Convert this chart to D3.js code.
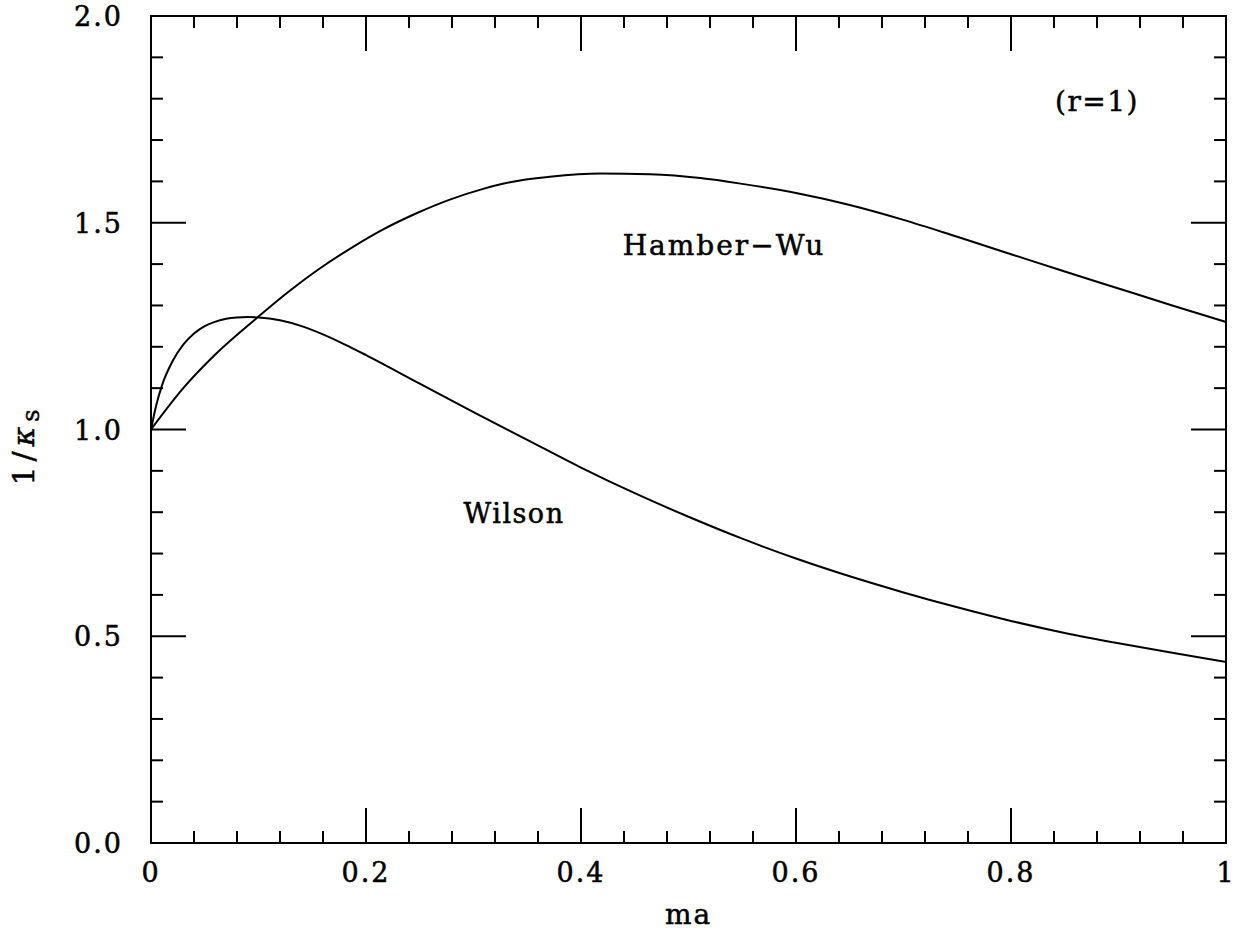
<!DOCTYPE html>
<html lang="en">
<head>
    <meta charset="UTF-8">
    <title>1/kappa_s vs ma</title>
    <script src="https://d3js.org/d3.v7.min.js"></script>
    <style>
        body { margin: 0; background: #fff; }
        text { font-family: "DejaVu Serif", serif; fill: #000; stroke: #000; stroke-width: 0.5px; }
    </style>
</head>
<body>
<div id="chart"></div>
<script>
    // values
    const wilsonX = [0, 0.005, 0.01, 0.02, 0.03, 0.04, 0.05, 0.06, 0.07, 0.08, 0.09, 0.1, 0.12, 0.14, 0.16,
        0.18, 0.2, 0.25, 0.3, 0.35, 0.4, 0.45, 0.5, 0.55, 0.6, 0.65, 0.7, 0.75, 0.8, 0.85, 0.9, 0.95, 1.0];
    const wilsonY = [1.0, 1.06, 1.105, 1.165, 1.205, 1.232, 1.25, 1.261, 1.268, 1.271, 1.272, 1.271, 1.264,
        1.25, 1.23, 1.206, 1.18, 1.111, 1.042, 0.975, 0.908, 0.846, 0.789, 0.736, 0.688, 0.645, 0.606, 0.57,
        0.537, 0.508, 0.483, 0.46, 0.438];

    const hamberX = [0, 0.03, 0.06, 0.0986, 0.125, 0.154, 0.185, 0.216, 0.247, 0.278, 0.309, 0.334, 0.371,
        0.418, 0.464, 0.511, 0.55, 0.6, 0.65, 0.7, 0.75, 0.8, 0.85, 0.9, 0.95, 1.0];
    const hamberY = [1.0, 1.1, 1.182, 1.27, 1.327, 1.384, 1.437, 1.484, 1.523, 1.556, 1.582, 1.598, 1.611,
        1.619, 1.617, 1.608, 1.594, 1.572, 1.543, 1.507, 1.466, 1.424, 1.382, 1.341, 1.3, 1.26];

    const xMajor = [0, 0.2, 0.4, 0.6, 0.8, 1];
    const xLabels = ["0", "0.2", "0.4", "0.6", "0.8", "1"];
    const yMajor = [0, 0.5, 1.0, 1.5, 2.0];
    const yLabels = ["0.0", "0.5", "1.0", "1.5", "2.0"];

    function drawChart(width, height) {
        const margin = {left: 151, right: width - 1226, top: 16, bottom: height - 843};
        const svg = d3.select("#chart").append("svg")
            .attr("width", width)
            .attr("height", height);

        const x = d3.scaleLinear().domain([0, 1]).range([margin.left, width - margin.right]);
        const y = d3.scaleLinear().domain([0, 2]).range([height - margin.bottom, margin.top]);

        const x0 = x(0), x1 = x(1), y0 = y(0), y1 = y(2);

        // ticks on all four sides, pointing in
        const xMinor = d3.range(0, 1.0001, 0.04).filter(v => !xMajor.some(m => Math.abs(m - v) < 1e-6));
        const yMinor = d3.range(0, 2.0001, 0.1).filter(v => !yMajor.some(m => Math.abs(m - v) < 1e-6));
        const big = 35, small = 12;

        const ticks = svg.append("g").attr("stroke", "#000").attr("stroke-width", 2);
        [[xMajor, big], [xMinor, small]].forEach(([vals, len]) => {
            vals.forEach(v => {
                ticks.append("line").attr("x1", x(v)).attr("x2", x(v)).attr("y1", y0).attr("y2", y0 - len);
                ticks.append("line").attr("x1", x(v)).attr("x2", x(v)).attr("y1", y1).attr("y2", y1 + len);
            });
        });
        [[yMajor, big], [yMinor, small]].forEach(([vals, len]) => {
            vals.forEach(v => {
                ticks.append("line").attr("y1", y(v)).attr("y2", y(v)).attr("x1", x0).attr("x2", x0 + len);
                ticks.append("line").attr("y1", y(v)).attr("y2", y(v)).attr("x1", x1).attr("x2", x1 - len);
            });
        });

        svg.append("rect")
            .attr("x", x0).attr("y", y1)
            .attr("width", x1 - x0).attr("height", y0 - y1)
            .attr("fill", "none").attr("stroke", "#000").attr("stroke-width", 2);

        // tick labels
        svg.append("g").selectAll("text")
            .data(xMajor)
            .join("text")
            .attr("x", d => x(d))
            .attr("y", 882)
            .attr("text-anchor", "middle")
            .attr("font-size", 27)
            .attr("letter-spacing", 2)
            .text((d, i) => xLabels[i]);

        svg.append("g").selectAll("text")
            .data(yMajor)
            .join("text")
            .attr("x", 123)
            .attr("y", d => y(d) + 10)
            .attr("text-anchor", "end")
            .attr("font-size", 27)
            .attr("letter-spacing", 2)
            .text((d, i) => yLabels[i]);

        // axis titles
        svg.append("text")
            .attr("x", (x0 + x1) / 2)
            .attr("y", 924)
            .attr("text-anchor", "middle")
            .attr("font-size", 28)
            .attr("letter-spacing", 2)
            .text("ma");

        const yt = svg.append("text")
            .attr("transform", "translate(34,445) rotate(-90)")
            .attr("text-anchor", "middle")
            .attr("font-size", 30)
            .attr("letter-spacing", 5);
        yt.append("tspan").text("1/");
        yt.append("tspan").attr("font-style", "italic").text("κ");
        yt.append("tspan").attr("font-size", 24).attr("dy", 5).text("s");

        // curves
        const line = d3.line()
            .x(d => x(d[0]))
            .y(d => y(d[1]))
            .curve(d3.curveMonotoneX);

        const series = [
            wilsonX.map((v, i) => [v, wilsonY[i]]),
            hamberX.map((v, i) => [v, hamberY[i]])
        ];
        svg.append("g").selectAll("path")
            .data(series)
            .join("path")
            .attr("d", line)
            .attr("fill", "none")
            .attr("stroke", "#000")
            .attr("stroke-width", 2);

        // labels inside the plot
        svg.append("text")
            .attr("x", 724).attr("y", 255)
            .attr("text-anchor", "middle")
            .attr("font-size", 28)
            .attr("letter-spacing", 2)
            .text("Hamber\u2212Wu");
        svg.append("text")
            .attr("x", 514).attr("y", 523)
            .attr("text-anchor", "middle")
            .attr("font-size", 27)
            .attr("letter-spacing", 1.5)
            .text("Wilson");
        svg.append("text")
            .attr("x", 1097).attr("y", 111)
            .attr("text-anchor", "middle")
            .attr("font-size", 28)
            .attr("letter-spacing", 1.5)
            .text("(r=1)");

        return svg.node();
    }

    document.addEventListener('DOMContentLoaded', () => {
        drawChart(1241, 936);
    });
</script>
</body>
</html>
